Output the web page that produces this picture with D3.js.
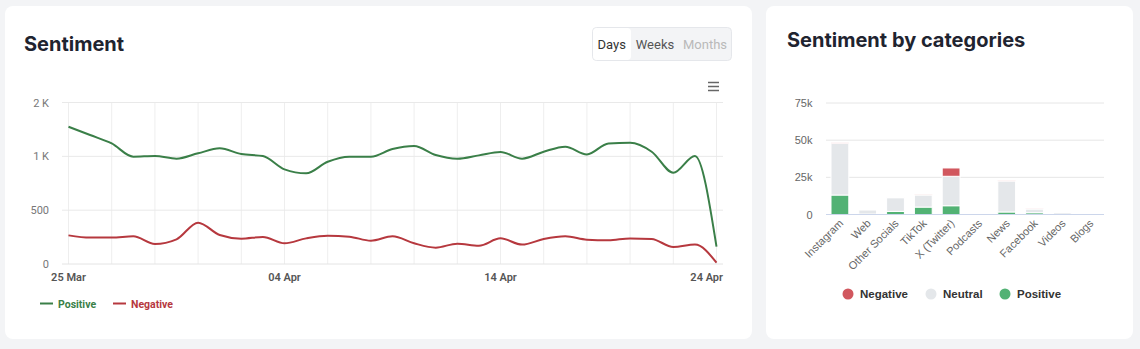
<!DOCTYPE html>
<html><head><meta charset="utf-8">
<script src="https://cdn.jsdelivr.net/npm/d3@7"></script>
<style>
html,body{margin:0;padding:0;background:#f3f4f6;}
svg{display:block;}
</style></head>
<body>
<svg id="c" width="1140" height="349"></svg>
<script>
// ---- Data: Sentiment over time ----
const days = ["25 Mar","26 Mar","27 Mar","28 Mar","29 Mar","30 Mar","31 Mar","01 Apr","02 Apr","03 Apr",
  "04 Apr","05 Apr","06 Apr","07 Apr","08 Apr","09 Apr","10 Apr","11 Apr","12 Apr","13 Apr",
  "14 Apr","15 Apr","16 Apr","17 Apr","18 Apr","19 Apr","20 Apr","21 Apr","22 Apr","23 Apr","24 Apr"];
const positive = [1275,1198,1120,997,1003,978,1028,1074,1021,1003,879,842,950,997,997,1068,1096,1012,978,1009,1040,978,1043,1090,1018,1120,1126,1043,848,1003,161];
const negative = [266,245,245,257,186,229,384,269,235,251,192,238,263,254,216,257,192,152,189,170,238,180,232,257,226,220,238,232,158,180,12];
const lineTicks = [0,500,1000,1500];
const lineTickLabels = ["0","500","1 K","2 K"];
const xLabelDays = ["25 Mar","04 Apr","14 Apr","24 Apr"];

// ---- Data: Sentiment by categories ----
const categories = ["Instagram","Web","Other Socials","TikTok","X (Twitter)","Podcasts","News","Facebook","Videos","Blogs"];
const catPositive = [13100,300,2100,5000,5900,100,1700,1200,200,100];
const catNeutral  = [34800,2700,9200,8100,19800,200,20800,2500,1100,200];
const catNegative = [300,0,200,200,5600,0,200,100,0,0];
const barTicks = [0,25000,50000,75000];
const barTickLabels = ["0","25k","50k","75k"];

const svg = d3.select("#c");
const F = "Roboto, 'Liberation Sans', Arial, sans-serif";

// cards
svg.append("rect").attr("x",5).attr("y",6).attr("width",747).attr("height",333).attr("rx",8).attr("fill","#fff");
svg.append("rect").attr("x",766).attr("y",6).attr("width",367).attr("height",333).attr("rx",8).attr("fill","#fff");

// titles
svg.append("text").attr("x",24).attr("y",51).text("Sentiment")
  .attr("font-family","Inter, Roboto, sans-serif").attr("font-weight",700).attr("font-size",20).attr("fill","#1f2430");
svg.append("text").attr("x",787).attr("y",47).text("Sentiment by categories")
  .attr("font-family","Inter, Roboto, sans-serif").attr("font-weight",700).attr("font-size",20).attr("fill","#1f2430");

// button group
const bg = svg.append("g");
bg.append("rect").attr("x",592.5).attr("y",27.5).attr("width",139).attr("height",33).attr("rx",4)
  .attr("fill","#f3f4f6").attr("stroke","#e5e7eb");
bg.append("rect").attr("x",593).attr("y",28).attr("width",38).attr("height",32).attr("rx",4).attr("fill","#fff");
[["Days",611.7,"#333"],["Weeks",655,"#555"],["Months",705,"#b9b9b9"]].forEach(([t,x,c])=>{
  bg.append("text").attr("x",x).attr("y",49).attr("text-anchor","middle").text(t)
    .attr("font-family",F).attr("font-size",13).attr("fill",c);
});
// hamburger
[82.5,86.5,90.5].forEach(y=>svg.append("line").attr("x1",708).attr("x2",719).attr("y1",y).attr("y2",y)
  .attr("stroke","#666").attr("stroke-width",1.5));

// ---- Line chart ----
const x = d3.scaleLinear().domain([0, days.length-1]).range([68.5, 716.5]);
const y = d3.scaleLinear().domain([0,1500]).range([264, 102.5]);
const lg = svg.append("g");
// vertical grid every 2 days
days.forEach((d,i)=>{ if(i%2===0) lg.append("line").attr("x1",x(i)).attr("x2",x(i)).attr("y1",y(1500)).attr("y2",y(0))
  .attr("stroke","#eeeeee").attr("stroke-width",1); });
lineTicks.forEach((t,i)=>{
  lg.append("line").attr("x1",62).attr("x2",723).attr("y1",y(t)).attr("y2",y(t))
    .attr("stroke", t===0 ? "#e4e4e4" : "#e9e9e9").attr("stroke-width",1);
  lg.append("text").attr("x",49).attr("y",y(t)+4).attr("text-anchor","end").text(lineTickLabels[i])
    .attr("font-family",F).attr("font-size",11).attr("fill","#777");
});
xLabelDays.forEach((lab,k)=>{
  const i = days.indexOf(lab);
  const last = i===days.length-1;
  lg.append("text").attr("x", last ? 723 : x(i)).attr("y",281).attr("text-anchor", last ? "end" : "middle").text(lab)
    .attr("font-family",F).attr("font-weight",600).attr("font-size",11).attr("fill","#555");
});
const line = d3.line().x((d,i)=>x(i)).y(d=>y(d)).curve(d3.curveMonotoneX);
lg.append("path").attr("d",line(positive)).attr("fill","none").attr("stroke","#3a7f48").attr("stroke-width",2);
lg.append("path").attr("d",line(negative)).attr("fill","none").attr("stroke","#b6383e").attr("stroke-width",2);
// legend
[["Positive","#3a7f48",40],["Negative","#b6383e",113]].forEach(([t,c,lx])=>{
  lg.append("line").attr("x1",lx).attr("x2",lx+13).attr("y1",303.5).attr("y2",303.5).attr("stroke",c).attr("stroke-width",2);
  lg.append("text").attr("x",lx+18).attr("y",307.5).text(t).attr("font-family",F).attr("font-weight",700)
    .attr("font-size",10.5).attr("fill",c);
});

// ---- Stacked bar chart ----
const HF = "'Liberation Sans', Arial, Helvetica, sans-serif";
const xb = d3.scaleBand().domain(categories).range([826,1104]).paddingInner(0.36).paddingOuter(0.18);
const yb = d3.scaleLinear().domain([0,75000]).range([214.5,103]);
const bgp = svg.append("g");
barTicks.forEach((t,i)=>{
  if(t>0) bgp.append("line").attr("x1",826).attr("x2",1104).attr("y1",yb(t)).attr("y2",yb(t)).attr("stroke","#e6e6e6");
  bgp.append("text").attr("x",812.5).attr("y",yb(t)+4).attr("text-anchor","end").text(barTickLabels[i])
    .attr("font-family",HF).attr("font-size",11).attr("fill","#666");
});
const rows = categories.map((c,i)=>({cat:c, Positive:catPositive[i], Neutral:catNeutral[i], Negative:catNegative[i]}));
const stack = d3.stack().keys(["Positive","Neutral","Negative"])(rows);
const colors = {Positive:"#52b274", Neutral:"#e4e7ea", Negative:"#d1575e"};
stack.forEach(layer=>{
  bgp.selectAll(null).data(layer).enter().append("rect")
    .attr("x",d=>xb(d.data.cat)).attr("width",xb.bandwidth())
    .attr("y",d=>yb(d[1])).attr("height",d=>Math.max(0,yb(d[0])-yb(d[1])))
    .attr("fill",colors[layer.key]).attr("stroke","#fff").attr("stroke-width",1);
});
bgp.append("line").attr("x1",826).attr("x2",1104).attr("y1",214.5).attr("y2",214.5).attr("stroke","#ccd6eb");
categories.forEach(c=>{
  const cx = xb(c)+xb.bandwidth()/2;
  bgp.append("text").attr("transform",`translate(${cx+4},${224}) rotate(-45)`).attr("text-anchor","end").text(c)
    .attr("font-family",HF).attr("font-size",11).attr("fill","#666");
});
// legend
[["Negative",colors.Negative,848],["Neutral",colors.Neutral,931],["Positive",colors.Positive,1005]].forEach(([t,c,lx])=>{
  bgp.append("circle").attr("cx",lx).attr("cy",294).attr("r",5.5).attr("fill",c);
  bgp.append("text").attr("x",lx+12).attr("y",298).text(t).attr("font-family",HF).attr("font-weight",700)
    .attr("font-size",11.5).attr("fill","#333");
});
</script>
</body></html>
